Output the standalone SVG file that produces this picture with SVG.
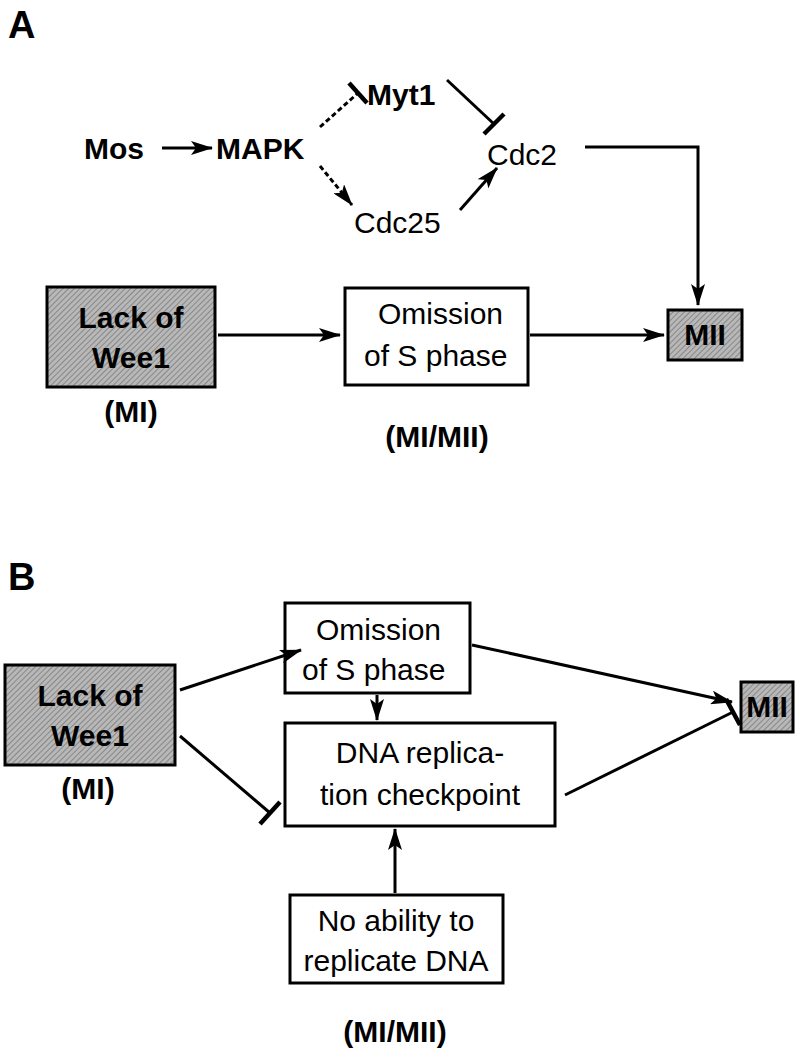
<svg xmlns="http://www.w3.org/2000/svg" width="800" height="1061" viewBox="0 0 800 1061">
<defs>
<pattern id="hatch" width="4" height="4" patternUnits="userSpaceOnUse" patternTransform="rotate(45)">
<rect width="4" height="4" fill="#b8b8b8"/><line x1="0" y1="0" x2="0" y2="4" stroke="#777" stroke-width="1.5"/>
</pattern>
<marker id="ahb" markerWidth="22" markerHeight="14" refX="21" refY="7" orient="auto" markerUnits="userSpaceOnUse" viewBox="0 0 22 14"><path d="M0,0 L22,7 L0,14 L5,7 z" fill="#000"/></marker>
</defs>
<style>
text{font-family:"Liberation Sans",Arial,sans-serif;fill:#000}
.b{font-weight:bold}
.t{font-size:30px}
.lbl{font-size:30px;font-weight:bold;text-anchor:middle}
.box{fill:#fff;stroke:#000;stroke-width:3}
.gbox{fill:url(#hatch);stroke:#000;stroke-width:3}
.c{stroke:#000;stroke-width:3;fill:none}
.bar{stroke:#000;stroke-width:4.5;fill:none}
.d{stroke-dasharray:5,3}
</style>
<rect width="800" height="1061" fill="#fff"/>
<text x="8" y="38" font-size="38" class="b">A</text>
<text x="8" y="590" font-size="38" class="b">B</text>
<g id="mos"><text x="84" y="159" class="t b">Mos</text></g>
<g id="mapk"><text x="216" y="159" class="t b">MAPK</text></g>
<g id="myt1"><text x="367" y="105" class="t b">Myt1</text></g>
<g id="cdc2"><text x="487" y="165" class="t">Cdc2</text></g>
<g id="cdc25"><text x="354" y="233" class="t">Cdc25</text></g>
<g id="a-wee1"><rect x="47" y="287" width="168" height="100" class="gbox"/><text x="131" y="328" class="lbl">Lack of</text><text x="131" y="368" class="lbl">Wee1</text><text x="131" y="422" class="lbl">(MI)</text></g>
<g id="a-omission"><rect x="345" y="288" width="183" height="97" class="box"/><text x="378" y="324" class="t">Omission</text><text x="364" y="366" class="t">of S phase</text><text x="437" y="447" class="lbl">(MI/MII)</text></g>
<g id="a-mii"><rect x="668" y="310" width="74" height="50" class="gbox"/><text x="705" y="345" class="lbl" font-size="24">MII</text></g>
<g id="b-omission"><rect x="285" y="603" width="185" height="90" class="box"/><text x="316" y="640" class="t">Omission</text><text x="302" y="680" class="t">of S phase</text></g>
<g id="b-wee1"><rect x="5" y="665" width="170" height="100" class="gbox"/><text x="90" y="706" class="lbl">Lack of</text><text x="90" y="746" class="lbl">Wee1</text><text x="88" y="799" class="lbl">(MI)</text></g>
<g id="b-dna"><rect x="285" y="723" width="270" height="103" class="box"/><text x="420" y="763" class="t" text-anchor="middle">DNA replica-</text><text x="420" y="805" class="t" text-anchor="middle">tion checkpoint</text></g>
<g id="b-mii"><rect x="741" y="682" width="52" height="50" class="gbox"/><text x="767" y="717" class="lbl" font-size="24">MII</text></g>
<g id="b-noability"><rect x="290" y="895" width="213" height="88" class="box"/><text x="396" y="931" class="t" text-anchor="middle">No ability to</text><text x="396" y="971" class="t" text-anchor="middle">replicate DNA</text><text x="395" y="1042" class="lbl">(MI/MII)</text></g>
<g id="connectors">
<line x1="162" y1="148" x2="212" y2="148" class="c" marker-end="url(#ahb)"/>
<line x1="320" y1="127" x2="358" y2="93" class="c d"/>
<line x1="349" y1="83" x2="367" y2="103" class="bar"/>
<line x1="320" y1="166" x2="352" y2="205" class="c d" marker-end="url(#ahb)"/>
<line x1="447" y1="80" x2="494" y2="124" class="c"/>
<line x1="484" y1="134" x2="504" y2="114" class="bar"/>
<line x1="460" y1="210" x2="497" y2="168" class="c" marker-end="url(#ahb)"/>
<polyline points="585,147 698,147 698,305" class="c" marker-end="url(#ahb)"/>
<line x1="218" y1="335" x2="340" y2="335" class="c" marker-end="url(#ahb)"/>
<line x1="530" y1="335" x2="664" y2="335" class="c" marker-end="url(#ahb)"/>
<line x1="180" y1="690" x2="301" y2="650" class="c" marker-end="url(#ahb)"/>
<line x1="180" y1="736" x2="270" y2="813" class="c"/>
<line x1="260" y1="824" x2="280" y2="802" class="bar"/>
<line x1="377" y1="695" x2="377" y2="720" class="c" marker-end="url(#ahb)"/>
<line x1="472" y1="645" x2="732" y2="702" class="c" marker-end="url(#ahb)"/>
<line x1="565" y1="795" x2="733" y2="712" class="c"/>
<line x1="726" y1="699" x2="740" y2="725" class="bar"/>
<line x1="395" y1="893" x2="395" y2="829" class="c" marker-end="url(#ahb)"/>
</g>
</svg>
